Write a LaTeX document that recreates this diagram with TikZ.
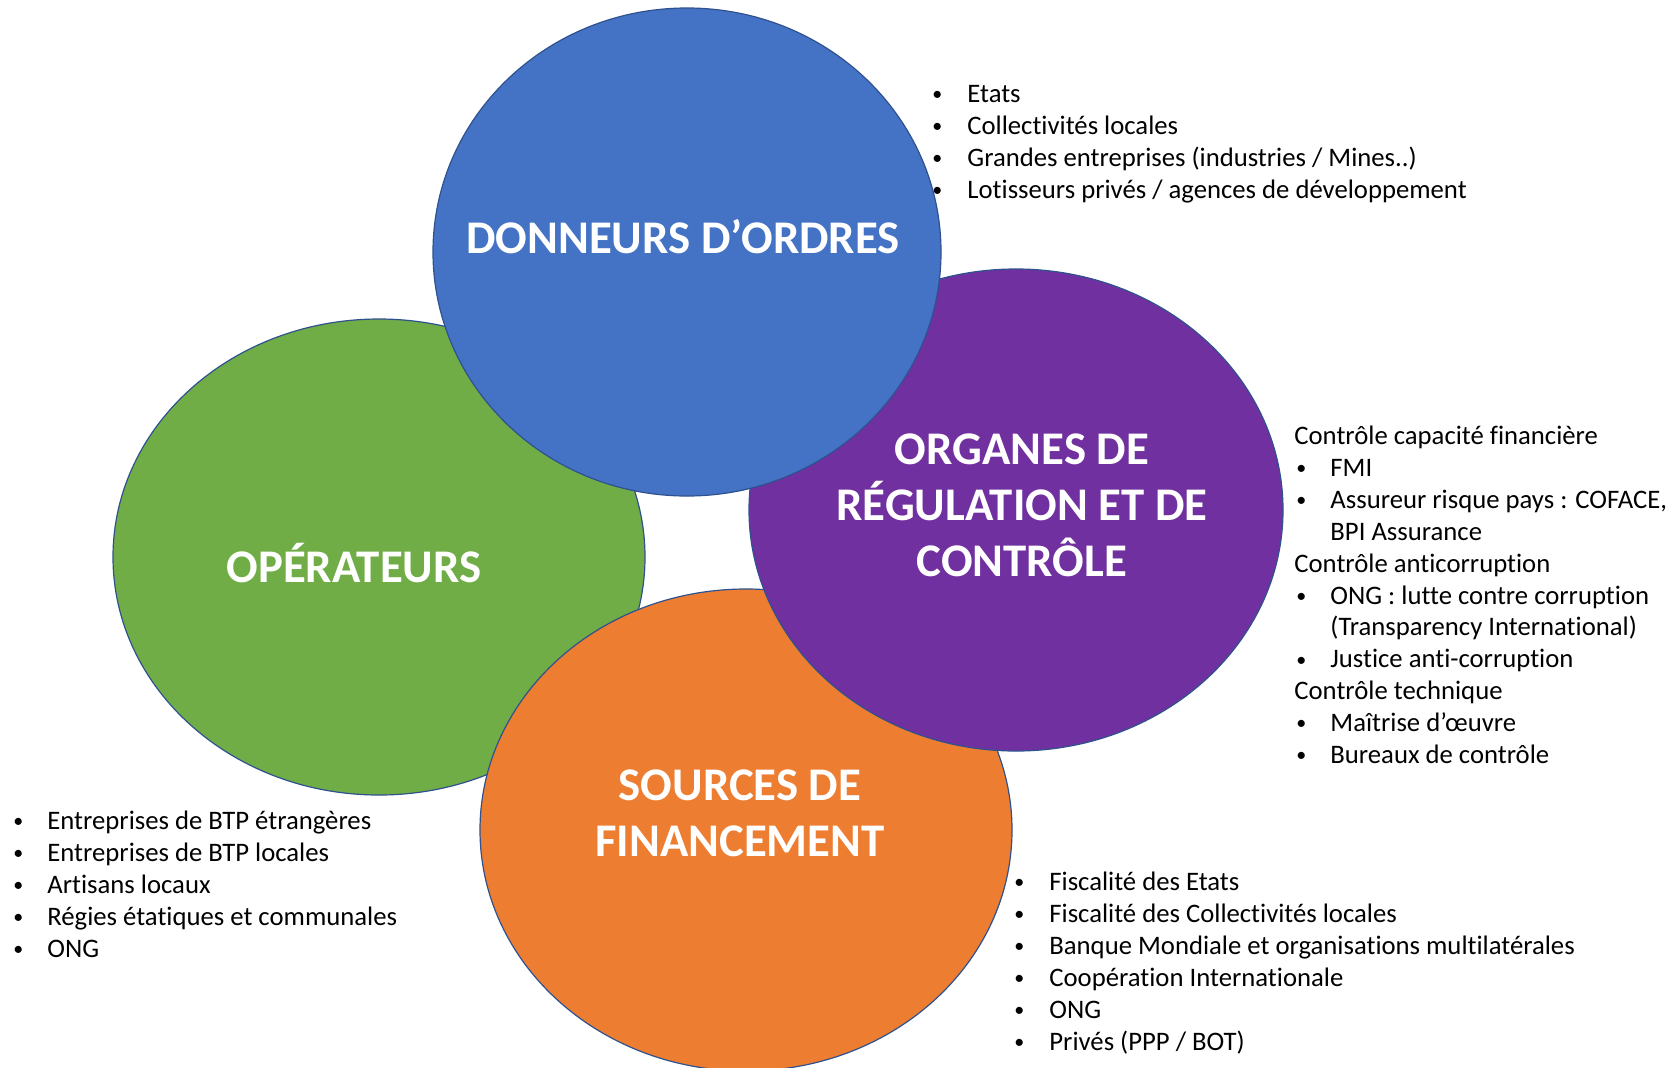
\documentclass[tikz,border=0pt]{standalone}
\usepackage{fontspec}
\setmainfont{Carlito}[Ligatures={NoCommon}]
\usetikzlibrary{calc, positioning}

\definecolor{ops-green}{HTML}{70AD47}
\definecolor{don-blue}{HTML}{4472C4}
\definecolor{ctl-purple}{HTML}{7030A0}
\definecolor{fin-orange}{HTML}{ED7D31}
\definecolor{disc-edge}{HTML}{2F528F}

\newcommand{\listbul}{\raisebox{0.9pt}{\fontsize{10}{16}\selectfont\textbullet}}

\begin{document}
\begin{tikzpicture}[x=0.5pt, y=-0.5pt,
  disc/.style={draw=disc-edge, line width=0.6pt},
  title/.style={text=white, align=center, inner sep=0,
    font=\fontsize{23.4}{28}\selectfont\bfseries},
  entry/.style={anchor=base west, inner sep=0,
    font=\fontsize{13.35}{16}\selectfont},
]

  \useasboundingbox (0,0) rectangle (1668,1067);

  \coordinate (ops-c) at (379, 557);
  \coordinate (fin-c) at (746, 830);
  \coordinate (ctl-c) at (1016, 510);
  \coordinate (don-c) at (687, 252);

  % discs, back to front
  \fill[disc, fill=ops-green]  (ops-c) ellipse [x radius=266, y radius=238];
  \fill[disc, fill=fin-orange] (fin-c) ellipse [x radius=266, y radius=241];
  \fill[disc, fill=ctl-purple] (ctl-c) ellipse [x radius=267, y radius=241];
  \fill[disc, fill=don-blue]   (don-c) ellipse [x radius=254, y radius=244];

  % titles
  \node[title] (don-title) at (683, 237) {DONNEURS D’ORDRES};
  \node[title] (ops-title) at (354, 563) {OPÉRATEURS};
  \node[title] (ctl-title) at (1022, 505) {ORGANES DE\\RÉGULATION ET DE\\CONTRÔLE};
  \node[title] (fin-title) at (740, 813) {SOURCES DE\\FINANCEMENT};

  % donneurs d'ordres
  \foreach \txt [count=\i] in {Etats, Collectivités locales,
      {Grandes entreprises (industries / Mines..)},
      Lotisseurs privés / agences de développement} {
    \node[entry] (don-bul-\i) at (932, {70.6+31.9*\i}) {\listbul};
    \node[entry] (don-\i) at (967, {70.6+31.9*\i}) {\txt};
  }

  % organes de controle
  \foreach \mk/\tx/\txt [count=\i] in {
      {}/1294/Contrôle capacité financière,
      \listbul/1330/FMI,
      \listbul/1330/{Assureur risque pays : COFACE,},
      {}/1330/BPI Assurance,
      {}/1294/Contrôle anticorruption,
      \listbul/1330/ONG : lutte contre corruption,
      {}/1330/{(Transparency International)},
      \listbul/1330/Justice anti-corruption,
      {}/1294/Contrôle technique,
      \listbul/1330/Maîtrise d’œuvre,
      \listbul/1330/Bureaux de contrôle} {
    \node[entry] (ctl-bul-\i) at (1296, {412.6+31.9*\i}) {\mk};
    \node[entry] (ctl-\i) at (\tx, {412.6+31.9*\i}) {\txt};
  }

  % operateurs
  \foreach \txt [count=\i] in {Entreprises de BTP étrangères,
      Entreprises de BTP locales, Artisans locaux,
      Régies étatiques et communales, ONG} {
    \node[entry] (ops-bul-\i) at (13, {797.6+31.9*\i}) {\listbul};
    \node[entry] (ops-\i) at (47, {797.6+31.9*\i}) {\txt};
  }

  % sources de financement
  \foreach \txt [count=\i] in {Fiscalité des Etats,
      Fiscalité des Collectivités locales,
      Banque Mondiale et organisations multilatérales,
      Coopération Internationale, ONG, {Privés (PPP / BOT)}} {
    \node[entry] (fin-bul-\i) at (1014, {858.6+31.9*\i}) {\listbul};
    \node[entry] (fin-\i) at (1049, {858.6+31.9*\i}) {\txt};
  }

\end{tikzpicture}
\end{document}
